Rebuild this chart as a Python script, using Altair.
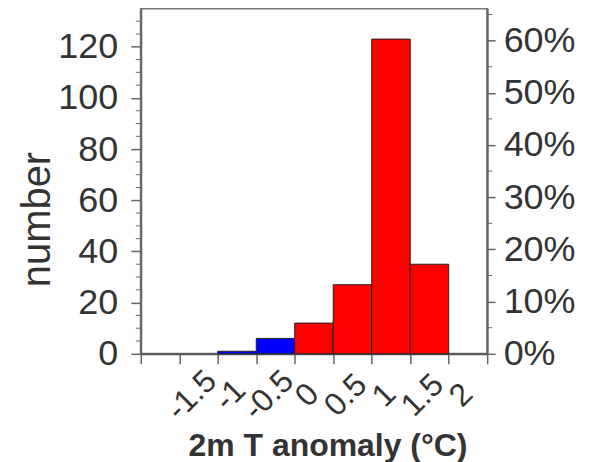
import altair as alt
import pandas as pd

# ---- data ----
bin_start = [-1.0, -0.5, 0.0, 0.5, 1.0, 1.5]
bin_end = [-0.5, 0.0, 0.5, 1.0, 1.5, 2.0]
counts = [1, 6, 12, 27, 123, 35]
bar_colors = ["#0000FF", "#0000FF", "#FF0000", "#FF0000", "#FF0000", "#FF0000"]

x_ticks = [-2, -1.5, -1, -0.5, 0, 0.5, 1, 1.5, 2, 2.5]
y_ticks = [0, 20, 40, 60, 80, 100, 120]
y_minor = [5, 10, 15, 25, 30, 35, 45, 50, 55, 65, 70, 75, 85, 90, 95, 105, 110, 115, 125, 130]
pct_ticks = [0, 0.1, 0.2, 0.3, 0.4, 0.5, 0.6]
pct_minor = [0.05, 0.15, 0.25, 0.35, 0.45, 0.55, 0.65]

Y_MAX = 135
total = sum(counts)

W, H = 347, 346
FONT = "Liberation Sans"
TXT = "#333333"
AX = "#666666"

bars_df = pd.DataFrame({"start": bin_start, "end": bin_end, "count": counts, "color": bar_colors})
minor_df = pd.DataFrame({"v": y_minor})
pmin_df = pd.DataFrame({"p": pct_minor})

xscale = alt.Scale(domain=[-2, 2.5], nice=False, zero=False)
yscale = alt.Scale(domain=[0, Y_MAX], nice=False)
pscale = alt.Scale(domain=[0, Y_MAX / total], nice=False)

xaxis = alt.Axis(
    values=x_ticks,
    labelExpr="datum.value == -2 || datum.value == 2.5 ? '' : '' + datum.value",
    labelAngle=315, labelAlign="center", labelBaseline="middle", labelOverlap=False,
    labelOffset=12, labelPadding=31, labelFontSize=32, labelFont=FONT, labelColor=TXT,
    tickSize=10, tickColor=AX, tickWidth=1.5, domainColor="#555555", domainWidth=2,
    grid=False,
    title="2m T anomaly (°C)", titleFont=FONT, titleFontSize=32, titleFontWeight="bold",
    titleColor=TXT, titleX=187, titleY=102, titleAlign="center", titleBaseline="alphabetic",
)

yaxis = alt.Axis(
    values=y_ticks, labelFontSize=36, labelFont=FONT, labelColor=TXT, labelOverlap=False,
    labelPadding=13, tickSize=10, tickColor=AX, tickWidth=1.5,
    domainColor=AX, domainWidth=2, grid=False,
    title="number", titleFont=FONT, titleFontSize=40, titleFontWeight="normal",
    titleColor=TXT, titleX=-91, titleY=211, titleAngle=270,
    titleAlign="center", titleBaseline="alphabetic",
)

paxis = alt.Axis(
    orient="right", values=pct_ticks, format=".0%", labelOverlap=False,
    labelFontSize=36, labelFont=FONT, labelColor=TXT,
    labelPadding=8, tickSize=8, tickColor=AX, tickWidth=1.5,
    domainColor=AX, domainWidth=2, grid=False, title=None,
)

bars = alt.Chart(bars_df).mark_bar(stroke="#222222", strokeWidth=1).encode(
    x=alt.X("start:Q", scale=xscale, axis=xaxis),
    x2="end:Q",
    y=alt.Y("count:Q", scale=yscale, axis=yaxis),
    y2=alt.datum(0),
    color=alt.Color("color:N", scale=None),
)

left_minor = alt.Chart(minor_df).mark_rule(color=AX, strokeWidth=1).encode(
    y=alt.Y("v:Q", scale=yscale, axis=None),
    x=alt.value(0), x2=alt.value(-5),
)

right_minor = alt.Chart(pmin_df).mark_rule(color=AX, strokeWidth=1).encode(
    y=alt.Y("p:Q", scale=pscale, axis=paxis),
    x=alt.value(W), x2=alt.value(W + 5),
)

chart = alt.layer(bars, left_minor, right_minor).resolve_scale(
    y="independent"
).properties(
    width=W, height=H,
    autosize=alt.AutoSizeParams(type="none"),
    padding={"left": 133, "top": 0, "right": 100, "bottom": 108},
).configure_view(
    stroke="#777777", strokeWidth=2
)

chart.save("out.html", embed_options={"renderer": "svg", "actions": False})
